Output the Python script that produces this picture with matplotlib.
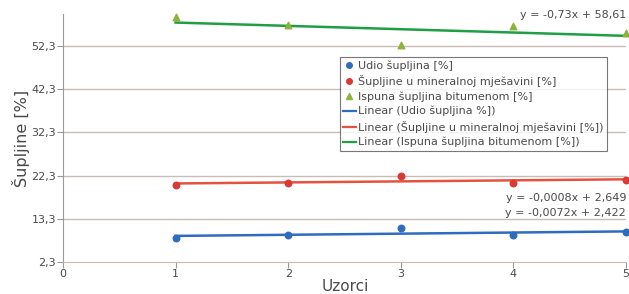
import matplotlib.pyplot as plt
import numpy as np
from matplotlib.lines import Line2D

# data
uzorci = [1, 2, 3, 4, 5]
udio = [7.9, 8.5, 10.2, 8.5, 9.2]
mjesavina = [20.1, 20.6, 22.2, 20.6, 21.3]
ispuna = [59.0, 57.2, 52.5, 56.9, 55.3]

ytick_vals = [2.3, 12.3, 22.3, 32.3, 42.3, 52.3]
ytick_labels = ['2,3', '13,3', '22,3', '32,3', '42,3', '52,3']
xticks = [0, 1, 2, 3, 4, 5]

blue = '#2f6cbd'
red = '#d93a35'
red_line = '#e5533f'
green_pt = '#8db33a'
green_line = '#1f9e45'
grid_c = '#c9bbb5'
txt_c = '#4a4a4a'

fig = plt.figure(figsize=(6.29, 2.94), dpi=100)
ax = fig.add_axes([63/629, 32/294, 563/629, 248/294])

x = np.array(uzorci)
for vals, c_pt, c_ln, mk in [(udio, blue, blue, 'o'),
                             (mjesavina, red, red_line, 'o'),
                             (ispuna, green_pt, green_line, '^')]:
    k, b = np.polyfit(x, vals, 1)
    ax.plot(x, k * x + b, color=c_ln, lw=1.8, zorder=3, clip_on=False)
    ax.scatter(x, vals, color=c_pt, marker=mk, s=22, zorder=4, clip_on=False)

ax.set_xlim(0, 5)
ax.set_ylim(2.3, 59.7)
ax.set_xticks(xticks)
ax.set_xticklabels([str(t) for t in xticks])
ax.set_yticks(ytick_vals)
ax.set_yticklabels(ytick_labels)

for y in ytick_vals[1:]:
    ax.axhline(y, color=grid_c, lw=1, zorder=1)

for s in ['top', 'right']:
    ax.spines[s].set_visible(False)
ax.spines['left'].set_color('#9a9a9a')
ax.spines['bottom'].set_color(grid_c)
ax.tick_params(axis='both', colors='#9a9a9a', labelcolor=txt_c, labelsize=8, length=4)
ax.tick_params(axis='x', pad=1)
ax.tick_params(axis='y', pad=1)

ax.set_ylabel('Šupljine [%]', fontsize=11.5, color=txt_c, labelpad=1)
fig.text(345/629, 0.0, 'Uzorci', fontsize=11, color=txt_c, ha='center', va='bottom')

# trend equations
fig.text(626/629, 1 - 15/294, 'y = -0,73x + 58,61', fontsize=8, color=txt_c, ha='right', va='center')
fig.text(626/629, 1 - 198/294, 'y = -0,0008x + 2,649', fontsize=8, color=txt_c, ha='right', va='center')
fig.text(626/629, 1 - 213/294, 'y = -0,0072x + 2,422', fontsize=8, color=txt_c, ha='right', va='center')

handles = [
    Line2D([], [], color=blue, marker='o', ls='none', ms=4),
    Line2D([], [], color=red, marker='o', ls='none', ms=4),
    Line2D([], [], color=green_pt, marker='^', ls='none', ms=4),
    Line2D([], [], color=blue, lw=1.6),
    Line2D([], [], color=red_line, lw=1.6),
    Line2D([], [], color=green_line, lw=1.6),
]
labels = ['Udio šupljina [%]',
          'Šupljine u mineralnoj mješavini [%]',
          'Ispuna šupljina bitumenom [%]',
          'Linear (Udio šupljina %])',
          'Linear (Šupljine u mineralnoj mješavini [%])',
          'Linear (Ispuna šupljina bitumenom [%])']
leg = fig.legend(handles, labels, loc='upper left', bbox_to_anchor=(340/629, 1 - 57/294),
                 fontsize=8, frameon=True, fancybox=False, handlelength=1.1,
                 handletextpad=0.2, labelspacing=0.38, borderpad=0.3, borderaxespad=0)
leg.get_frame().set_edgecolor('#555555')
leg.get_frame().set_linewidth(0.8)
for t in leg.get_texts():
    t.set_color(txt_c)

fig.savefig('out.png', dpi=100)
